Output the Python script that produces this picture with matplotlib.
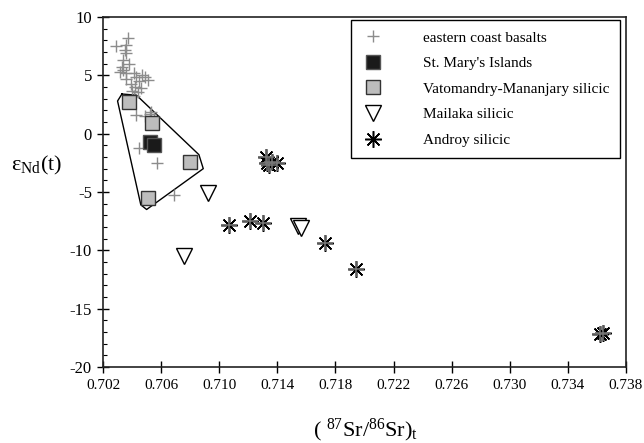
"""
Sr-Nd isotope plot: eNd(t) vs (87Sr/86Sr)t
"""
import matplotlib
matplotlib.use('Agg')
import matplotlib.pyplot as plt
from matplotlib.ticker import MultipleLocator, FixedLocator

plt.rcParams['font.family'] = ['Liberation Serif', 'DejaVu Serif']
plt.rcParams['mathtext.fontset'] = 'custom'
plt.rcParams['mathtext.rm'] = 'Liberation Serif'
plt.rcParams['mathtext.it'] = 'Liberation Serif:italic'
plt.rcParams['axes.unicode_minus'] = False

# eastern coast basalts
basalt_sr = [0.7037, 0.7029, 0.7035, 0.7036, 0.7034, 0.7033, 0.7034, 0.7032,
             0.7036, 0.7041, 0.7043, 0.7049, 0.7045, 0.7039, 0.7042, 0.7046,
             0.7040, 0.7044, 0.7036, 0.7051, 0.7043, 0.7049, 0.7053, 0.7045,
             0.7057, 0.7069, 0.7036, 0.7038, 0.7047, 0.7052, 0.7055, 0.7041]
basalt_nd = [8.2, 7.5, 7.2, 6.9, 6.3, 5.7, 5.5, 5.3,
             5.2, 5.2, 4.9, 4.9, 4.5, 4.3, 4.0, 3.9,
             3.7, 3.6, 4.7, 4.6, 1.6, 1.5, 1.9, -1.25,
             -2.5, -5.3, 7.6, 6.0, 5.0, 1.7, 1.4, 3.2]

# St. Mary's Islands
stmary_sr = [0.7052, 0.7055]
stmary_nd = [-0.75, -0.95]

# Vatomandry-Mananjary silicic
vato_sr = [0.7038, 0.7054, 0.7080, 0.7051]
vato_nd = [2.7, 0.9, -2.4, -5.5]

# Mailaka silicic
mailaka_sr = [0.7092, 0.7076, 0.7154, 0.7156]
mailaka_nd = [-5.1, -10.5, -7.9, -8.1]

# Androy silicic
androy_sr = [0.7132, 0.7133, 0.7136, 0.7140, 0.7134, 0.7107, 0.7121, 0.7130,
             0.7173, 0.7194, 0.7362, 0.7364]
androy_nd = [-2.0, -2.5, -2.4, -2.5, -2.7, -7.8, -7.5, -7.7,
             -9.4, -11.6, -17.2, -17.1]

# outline around the Vatomandry / St. Mary's field
field_sr = [0.7033, 0.7043, 0.7086, 0.7089, 0.7050, 0.7046, 0.7030, 0.7033]
field_nd = [3.4, 3.3, -1.8, -3.0, -6.5, -6.1, 2.8, 3.4]

x_ticks = [0.702, 0.706, 0.710, 0.714, 0.718, 0.722, 0.726, 0.730, 0.734, 0.738]
x_ticklabels = ['0.702', '0.706', '0.710', '0.714', '0.718',
                '0.722', '0.726', '0.730', '0.734', '0.738']

fig = plt.figure(figsize=(6.44, 4.43), dpi=100)
ax = fig.add_axes([0.160, 0.1716, 0.812, 0.790])

ax.plot(field_sr, field_nd, color='black', linewidth=1.0, zorder=2)

ax.plot(basalt_sr, basalt_nd, linestyle='none', marker='+', markersize=9,
        markeredgewidth=1.0, color='#8c8c8c', label='eastern coast basalts', zorder=3)
ax.plot(stmary_sr, stmary_nd, linestyle='none', marker='s', markersize=10,
        markerfacecolor='#1a1a1a', markeredgecolor='#555555', markeredgewidth=1.0,
        label="St. Mary's Islands", zorder=4)
ax.plot(vato_sr, vato_nd, linestyle='none', marker='s', markersize=9.5,
        markerfacecolor='#bdbdbd', markeredgecolor='#333333', markeredgewidth=1.0,
        label='Vatomandry-Mananjary silicic', zorder=4)
ax.plot(mailaka_sr, mailaka_nd, linestyle='none', marker='v', markersize=12,
        markerfacecolor='white', markeredgecolor='black', markeredgewidth=1.0,
        label='Mailaka silicic', zorder=4)
ax.plot(androy_sr, androy_nd, linestyle='none', marker=(8, 2, 0), markersize=12,
        markeredgewidth=1.1, color='black', label='Androy silicic', zorder=5)
ax.plot(androy_sr, androy_nd, linestyle='none', marker='+', markersize=12,
        markeredgewidth=1.1, color='#777777', zorder=6)

ax.set_xlim(0.702, 0.738)
ax.set_ylim(-20, 10)
ax.xaxis.set_major_locator(FixedLocator(x_ticks))
ax.set_xticklabels(x_ticklabels)
ax.yaxis.set_major_locator(MultipleLocator(5))
ax.yaxis.set_minor_locator(MultipleLocator(1))
ax.tick_params(axis='x', which='major', direction='inout', length=8, width=1,
               labelsize=11, pad=5)
ax.tick_params(axis='y', which='major', direction='inout', length=8, width=1,
               labelsize=12, pad=4)
ax.tick_params(axis='y', which='minor', direction='in', length=3, width=0.8)
for s in ax.spines.values():
    s.set_linewidth(1.2)
    s.set_color('#222222')

fig.text(0.057, 1 - 165 / 443, r'ε$_{\mathrm{Nd}}$(t)', fontsize=16,
         ha='center', va='center')
fig.text(0.568, 1 - 430 / 443, r'( $^{87}$Sr/$^{86}$Sr)$_{\mathrm{t}}$',
         fontsize=16, ha='center', va='center')

leg = ax.legend(loc='upper left', bbox_to_anchor=(0.474, 0.991), borderaxespad=0,
                fontsize=11, frameon=True, fancybox=False, framealpha=1,
                edgecolor='black', labelspacing=0.78, handletextpad=2.5,
                borderpad=0.7, handlelength=1.5)
leg.get_frame().set_linewidth(1.0)

plt.savefig('out.png', dpi=100)
